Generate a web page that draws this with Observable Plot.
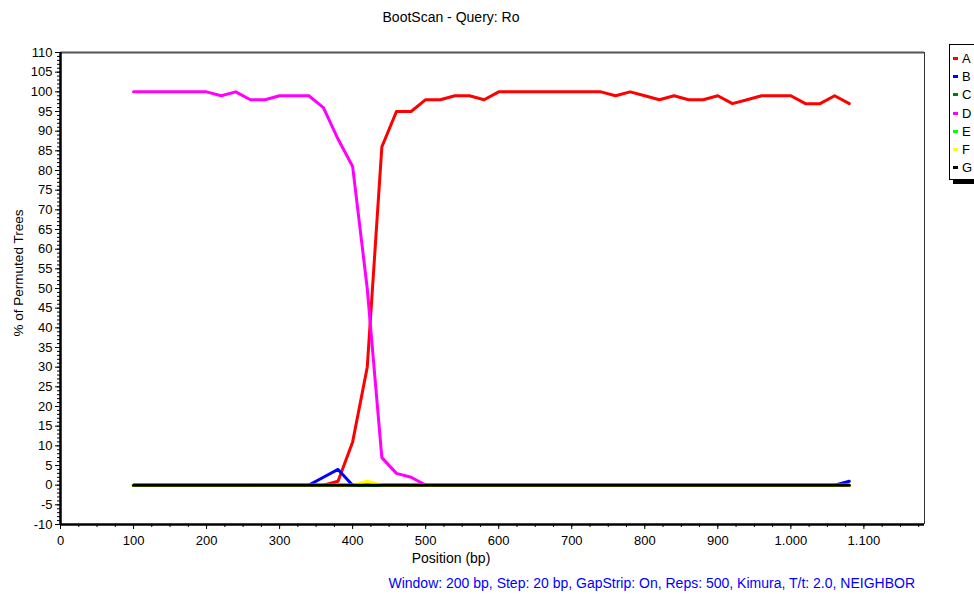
<!DOCTYPE html>
<html>
<head>
<meta charset="utf-8">
<script src="https://cdn.jsdelivr.net/npm/d3@7"></script>
<script src="https://cdn.jsdelivr.net/npm/@observablehq/plot@0.6"></script>
<style>
  body { margin: 0; background: #fff; }
  #wrap { position: relative; width: 974px; height: 594px; overflow: hidden; font-family: "Liberation Sans", Arial, sans-serif; font-size: 14px; color: #000; }
  #wrap svg { position: absolute; left: 0; top: 0; }
  .txt { position: absolute; white-space: nowrap; }
  #legend { position: absolute; left: 949px; top: 44px; width: 60px; height: 134px; border: 1px solid #000; background: #fff; box-shadow: 4px 4px 0 #000; }
  .lg { position: absolute; left: 3px; height: 14px; line-height: 14px; font-size: 13px; }
  .lg span.sw { display: inline-block; width: 5px; height: 3px; vertical-align: middle; margin-right: 4px; position: relative; top: -1px; }
</style>
</head>
<body>
<div id="wrap"></div>
<script>
const positions = [100,120,140,160,180,200,220,240,260,280,300,320,340,360,380,400,420,440,460,480,500,520,540,560,580,600,620,640,660,680,700,720,740,760,780,800,820,840,860,880,900,920,940,960,980,1000,1020,1040,1060,1080];

const seriesA = [0,0,0,0,0,0,0,0,0,0,0,0,0,0,1,11,30,86,95,95,98,98,99,99,98,100,100,100,100,100,100,100,100,99,100,99,98,99,98,98,99,97,98,99,99,99,97,97,99,97];
const seriesB = [0,0,0,0,0,0,0,0,0,0,0,0,0,2,4,0,0,0,0,0,0,0,0,0,0,0,0,0,0,0,0,0,0,0,0,0,0,0,0,0,0,0,0,0,0,0,0,0,0,1];
const seriesC = [0,0,0,0,0,0,0,0,0,0,0,0,0,0,0,0,0,0,0,0,0,0,0,0,0,0,0,0,0,0,0,0,0,0,0,0,0,0,0,0,0,0,0,0,0,0,0,0,0,0];
const seriesD = [100,100,100,100,100,100,99,100,98,98,99,99,99,96,88,81,50,7,3,2,0,0,0,0,0,0,0,0,0,0,0,0,0,0,0,0,0,0,0,0,0,0,0,0,0,0,0,0,0,0];
const seriesE = [0,0,0,0,0,0,0,0,0,0,0,0,0,0,0,0,0,0,0,0,0,0,0,0,0,0,0,0,0,0,0,0,0,0,0,0,0,0,0,0,0,0,0,0,0,0,0,0,0,0];
const seriesF = [0,0,0,0,0,0,0,0,0,0,0,0,0,0,0,0,1,0,0,0,0,0,0,0,0,0,0,0,0,0,0,0,0,0,0,0,0,0,0,0,0,0,0,0,0,0,0,0,0,0];
const seriesG = [0,0,0,0,0,0,0,0,0,0,0,0,0,0,0,0,0,0,0,0,0,0,0,0,0,0,0,0,0,0,0,0,0,0,0,0,0,0,0,0,0,0,0,0,0,0,0,0,0,0];

const seriesKeys = ["A","B","C","D","E","F","G"];
const seriesColors = ["#ff0000","#0000ff","#008000","#ff00ff","#00ff00","#ffff00","#000000"];
const seriesValues = [seriesA, seriesB, seriesC, seriesD, seriesE, seriesF, seriesG];

const yTicks = [-10,-5,0,5,10,15,20,25,30,35,40,45,50,55,60,65,70,75,80,85,90,95,100,105,110];
const xTicks = [0,100,200,300,400,500,600,700,800,900,1000,1100];
const xTickLabels = ["0","100","200","300","400","500","600","700","800","900","1.000","1.100"];

const titleText = "BootScan - Query: Ro";
const xLabel = "Position (bp)";
const yLabel = "% of Permuted Trees";
const captionText = "Window: 200 bp, Step: 20 bp, GapStrip: On, Reps: 500, Kimura, T/t: 2.0, NEIGHBOR";

const data = seriesKeys.flatMap((k, si) => positions.map((x, i) => ({x, y: seriesValues[si][i], key: k})));

const minorY = d3.range(-10, 111, 1);
const minorX = d3.range(0, 1176, 25);

const chart = Plot.plot({
  width: 974,
  height: 594,
  marginLeft: 60,
  marginRight: 50,
  marginTop: 52,
  marginBottom: 70,
  style: {fontFamily: "'Liberation Sans', Arial, sans-serif", fontSize: "13px", background: "transparent", overflow: "visible"},
  x: {domain: [0, 1183]},
  y: {domain: [-10, 110]},
  color: {domain: seriesKeys, range: seriesColors},
  marks: [
    Plot.ruleY([110], {stroke: "#555", strokeWidth: 2}),
    Plot.ruleX([1183], {stroke: "#333", strokeWidth: 1}),
    Plot.axisY({ticks: minorY, tickSize: 3, tickFormat: null, text: null, label: null}),
    Plot.axisX({ticks: minorX, tickSize: 3, tickFormat: null, text: null, label: null}),
    Plot.axisY({ticks: yTicks, tickSize: 5, tickPadding: 3, tickFormat: d => String(d), label: null}),
    Plot.axisX({ticks: xTicks, tickSize: 5, tickPadding: 6, tickFormat: d => xTickLabels[xTicks.indexOf(d)], label: null}),
    Plot.line(data, {x: "x", y: "y", z: "key", stroke: "key", strokeWidth: 3}),
    Plot.ruleX([0], {stroke: "#000", strokeWidth: 2.5}),
    Plot.ruleY([-10], {stroke: "#000", strokeWidth: 2.5})
  ]
});

const wrap = document.getElementById("wrap");
wrap.appendChild(chart);

function addText(text, css) {
  const d = document.createElement("div");
  d.className = "txt";
  d.textContent = text;
  Object.assign(d.style, css);
  wrap.appendChild(d);
  return d;
}
addText(titleText, {left: "451px", top: "9px", transform: "translateX(-50%)"});
addText(xLabel, {left: "451px", top: "550px", transform: "translateX(-50%)"});
addText(yLabel, {left: "18px", top: "273px", fontSize: "13.5px", transform: "translate(-50%,-50%) rotate(-90deg)"});
addText(captionText, {right: "59px", top: "575px", color: "#0000ff"});

const legend = document.createElement("div");
legend.id = "legend";
seriesKeys.forEach((k, i) => {
  const row = document.createElement("div");
  row.className = "lg";
  row.style.top = (7 + i * 18.2) + "px";
  const sw = document.createElement("span");
  sw.className = "sw";
  sw.style.background = seriesColors[i];
  row.appendChild(sw);
  row.appendChild(document.createTextNode(k));
  legend.appendChild(row);
});
wrap.appendChild(legend);
</script>
</body>
</html>
